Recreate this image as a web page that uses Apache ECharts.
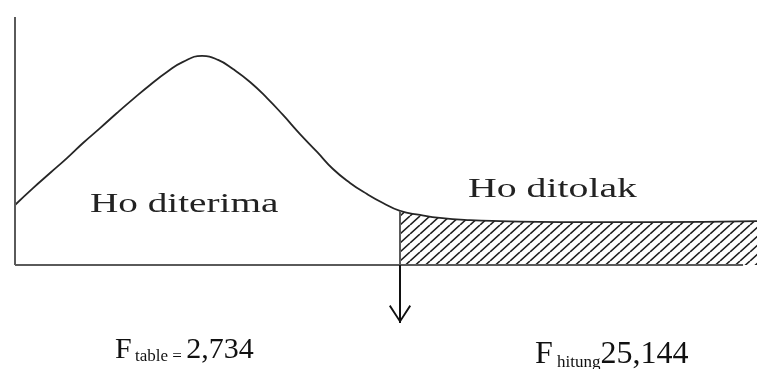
<!DOCTYPE html>
<html>
<head>
<meta charset="utf-8">
<script src="https://cdn.jsdelivr.net/npm/echarts@6/dist/echarts.min.js"></script>
<style>
  html, body { margin: 0; padding: 0; background: #fff; }
  #chart { width: 759px; height: 369px; }
</style>
</head>
<body>
<div id="chart"></div>
<script>
// F distribution sketch: acceptance region on the left, rejection region hatched on the right.
const fTable = 2.734;    // critical value
const fHitung = 25.144;  // computed statistic
const axisEnd = 5.17;    // where the horizontal baseline stops
const arrowDepth = -0.234; // arrow below the baseline, pointing at the critical value

// Curve outline (x in F units, y as relative density)
const curveX = [0, 0.128, 0.249, 0.369, 0.483, 0.604, 0.724, 0.838, 0.959, 1.079, 1.193, 1.328, 1.442, 1.548, 1.669, 1.790, 1.903, 2.024, 2.145, 2.258, 2.379, 2.500, 2.613, 2.734, 2.876, 3.018, 3.231, 3.444, 3.870, 4.509, 5.269];
const curveY = [0.242, 0.310, 0.371, 0.431, 0.492, 0.552, 0.613, 0.669, 0.726, 0.778, 0.819, 0.843, 0.827, 0.790, 0.738, 0.673, 0.605, 0.528, 0.456, 0.387, 0.331, 0.286, 0.250, 0.218, 0.202, 0.190, 0.181, 0.177, 0.173, 0.173, 0.177];

const regionLabels = ['Ho diterima', 'Ho ditolak'];
const fmt = v => String(v).replace('.', ',');

const curve = curveX.map((x, i) => [x, curveY[i]]);
const tail = curve.filter(p => p[0] >= fTable);
const yAtCritical = curveY[curveX.indexOf(fTable)];

// diagonal hatch tile
const tile = document.createElement('canvas');
tile.width = 10; tile.height = 9;
const g = tile.getContext('2d');
g.strokeStyle = '#1e1e1e';
g.lineWidth = 1.6;
g.beginPath();
g.moveTo(0, 9); g.lineTo(10, 0);
g.moveTo(-10, 9); g.lineTo(0, 0);
g.moveTo(10, 9); g.lineTo(20, 0);
g.stroke();

// open chevron arrowhead, tip at the centre of its box so it lands on the line end
const chevron = 'path://M0,13 L10,0 L20,13 L18.6,13.9 L10,2.6 L1.4,13.9 Z M10,-13.9 L10.05,-13.9 L10.05,-13.85 Z';

const serif = '"Liberation Serif", "Times New Roman", serif';
const axisStyle = { color: '#5a5a5a', width: 2, type: 'solid' };

const chart = echarts.init(document.getElementById('chart'), null, { renderer: 'canvas' });
chart.setOption({
  animation: false,
  grid: { left: 15, right: 2, top: 17, bottom: 42 },
  xAxis: {
    type: 'value', min: 0, max: 5.269,
    axisLine: { show: false },
    axisTick: { show: false }, axisLabel: { show: false }, splitLine: { show: false }
  },
  yAxis: {
    type: 'value', min: -0.25, max: 1,
    axisLine: { show: false },
    axisTick: { show: false }, axisLabel: { show: false }, splitLine: { show: false }
  },
  series: [
    {
      name: 'rejection',
      type: 'line',
      data: tail,
      smooth: 0.5,
      clip: false,
      symbol: 'none',
      lineStyle: { width: 0, opacity: 0 },
      areaStyle: { color: { image: tile, repeat: 'repeat' }, opacity: 1, origin: 0 },
      z: 1,
      markLine: {
        silent: true,
        symbol: 'none',
        label: { show: false },
        lineStyle: axisStyle,
        data: [
          [{ coord: [fTable, 0] }, { coord: [fTable, yAtCritical] }],
          [{ coord: [0, 0] }, { coord: [axisEnd, 0] }],
          [{ coord: [0, 0] }, { coord: [0, 1] }]
        ]
      }
    },
    {
      name: 'density',
      type: 'line',
      data: curve,
      smooth: 0.5,
      clip: false,
      symbol: 'none',
      lineStyle: { color: '#262626', width: 1.8 },
      z: 3,
      markLine: {
        silent: true,
        symbol: ['none', chevron],
        symbolSize: [22, 36],
        label: { show: false },
        lineStyle: { color: '#111', width: 2, type: 'solid' },
        data: [[{ coord: [fTable, 0] }, { coord: [fTable, arrowDepth] }]]
      }
    }
  ],
  graphic: [
    { type: 'text', left: 90, top: 191, scaleX: 1.4, style: { text: regionLabels[0], font: '28px ' + serif, fill: '#222' } },
    { type: 'text', left: 468, top: 176, scaleX: 1.42, style: { text: regionLabels[1], font: '28px ' + serif, fill: '#222' } },
    {
      type: 'text', left: 115, top: 335,
      style: {
        text: '{a|F} {b|table = }{a|' + fmt(fTable) + '}',
        rich: {
          a: { fontSize: 30, fontFamily: serif, fill: '#111', verticalAlign: 'bottom' },
          b: { fontSize: 17, fontFamily: serif, fill: '#111', verticalAlign: 'bottom' }
        }
      }
    },
    {
      type: 'text', left: 535, top: 339,
      style: {
        text: '{a|F}{b| hitung}{a|' + fmt(fHitung) + '}',
        rich: {
          a: { fontSize: 32, fontFamily: serif, fill: '#111', verticalAlign: 'bottom' },
          b: { fontSize: 17, fontFamily: serif, fill: '#111', verticalAlign: 'bottom' }
        }
      }
    }
  ]
});
</script>
</body>
</html>
